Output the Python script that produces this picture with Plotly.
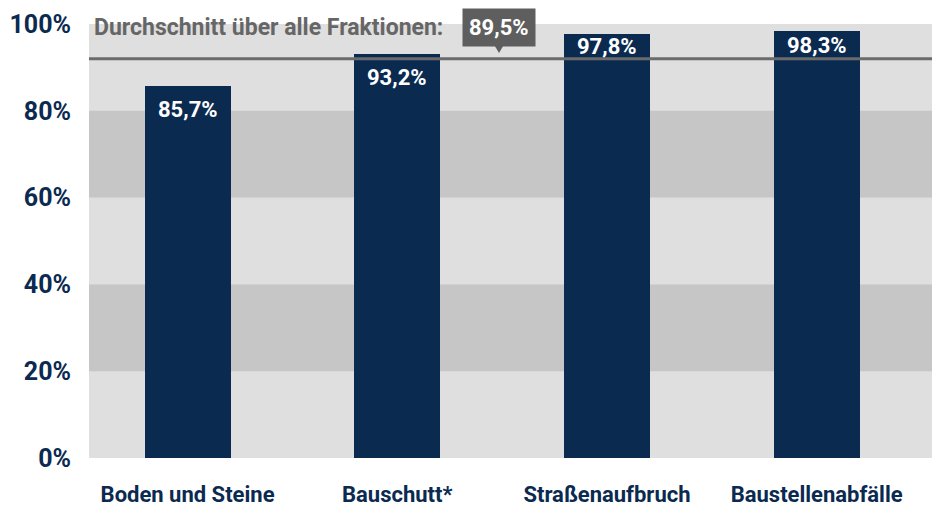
import plotly.graph_objects as go

# ---- data ----
categories = ["Boden und Steine", "Bauschutt*", "Straßenaufbruch", "Baustellenabfälle"]
values = [85.7, 93.2, 97.8, 98.3]
value_labels = ["85,7%", "93,2%", "97,8%", "98,3%"]
average_label = "89,5%"
average_line_level = 92.0   # where the reference draws the average line
y_ticks = [0, 20, 40, 60, 80, 100]
y_tick_labels = ["0%", "20%", "40%", "60%", "80%", "100%"]
dark_bands = [(20, 40), (60, 80)]

NAVY = "#0b2a50"
GREY_TXT = "#666666"
FONT = "Roboto"

fig = go.Figure()
fig.add_trace(go.Bar(
    x=categories, y=values, width=0.41,
    marker=dict(color=NAVY, line=dict(width=0)),
    hoverinfo="skip",
))

shapes = []
for lo, hi in dark_bands:
    shapes.append(dict(type="rect", xref="paper", yref="y", x0=0, x1=1, y0=lo, y1=hi,
                       fillcolor="#c6c6c6", line=dict(width=0), layer="below"))
shapes.append(dict(type="line", xref="paper", yref="y", x0=0, x1=1,
                   y0=average_line_level, y1=average_line_level,
                   line=dict(color="#6b6b6b", width=3), layer="above"))
# pointer of the average badge
shapes.append(dict(type="path", xref="paper", yref="paper",
                   path="M 0.4804 0.953 L 0.4923 0.953 L 0.4864 0.933 Z",
                   fillcolor="#5e5e5e", line=dict(width=0)))

annotations = []
for c, v, lab in zip(categories, values, value_labels):
    gap = v - average_line_level
    if gap >= 4.5:        # room above the average line: centre label there
        y, ys = (v + average_line_level) / 2, 0
    elif gap > 0:         # bar top just above line: put label under the line
        y, ys = average_line_level, -19
    else:
        y, ys = v, -23
    annotations.append(dict(x=c, y=y, xref="x", yref="y", text=lab, showarrow=False,
                            yanchor="middle", yshift=ys,
                            font=dict(family=FONT, size=22, color="white", weight=700)))
annotations.append(dict(x=0.0036, y=0.991, xref="paper", yref="paper", xanchor="left", yanchor="middle",
                        text="Durchschnitt über alle Fraktionen:", showarrow=False,
                        font=dict(family=FONT, size=23, color=GREY_TXT, weight=700)))
annotations.append(dict(x=0.4864, y=0.993, xref="paper", yref="paper", xanchor="center", yanchor="middle",
                        text=average_label, showarrow=False, bgcolor="#5e5e5e", borderpad=6,
                        font=dict(family=FONT, size=22, color="white", weight=700)))

fig.update_layout(
    width=932, height=507,
    margin=dict(l=89, r=0, t=24, b=45),
    paper_bgcolor="white", plot_bgcolor="#dfdfdf",
    showlegend=False, bargap=0,
    shapes=shapes, annotations=annotations,
    xaxis=dict(range=[-0.47, 3.55], showgrid=False, zeroline=False, showline=False,
               ticks="outside", ticklen=17, tickcolor="rgba(0,0,0,0)",
               tickfont=dict(family=FONT, size=22, color=NAVY, weight=700)),
    yaxis=dict(range=[0, 100], tickvals=y_ticks, ticktext=y_tick_labels,
               showgrid=False, zeroline=False, showline=False,
               ticks="outside", ticklen=12, tickcolor="rgba(0,0,0,0)",
               tickfont=dict(family=FONT, size=25, color=NAVY, weight=700)),
)

fig.write_html("out.html", config={"displayModeBar": False},
               post_script="document.body.style.margin='0px';document.body.style.overflow='hidden';")
